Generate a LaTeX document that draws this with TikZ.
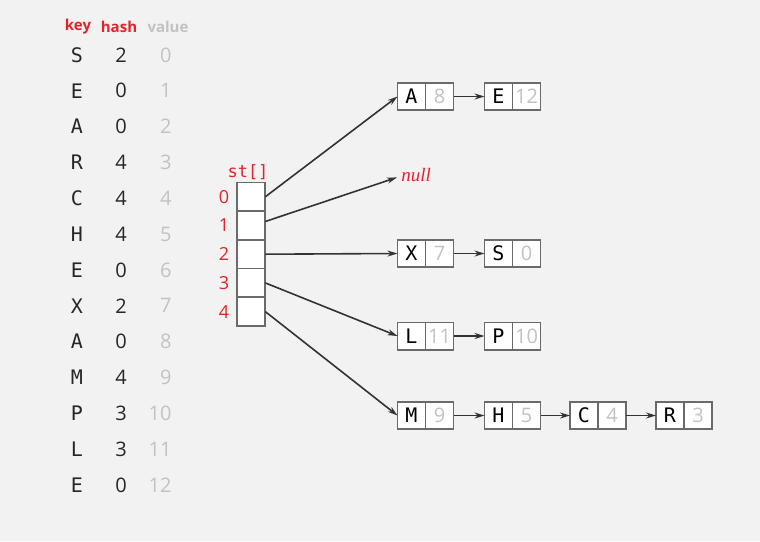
\documentclass[tikz,border=0pt]{standalone}
\usepackage{fontspec}
\usepackage{tikz}
\usetikzlibrary{arrows.meta}
\newfontfamily\keyfont{DejaVu Sans Mono}
\newfontfamily\numfont{Open Sans}
\newfontfamily\nilfont{Liberation Serif}
\definecolor{bggray}{HTML}{F2F2F2}
\definecolor{keyred}{HTML}{E2232A}
\definecolor{valgray}{HTML}{C2C2C2}
\definecolor{boxgray}{HTML}{6A6A6A}
\definecolor{arrowgray}{HTML}{333333}

\begin{document}
\begin{tikzpicture}[x=0.5pt,y=-0.5pt]
\tikzstyle{head}=[font=\numfont\bfseries\fontsize{7.5}{8}\selectfont,inner sep=0pt]
\tikzstyle{keytext}=[font=\keyfont\fontsize{10}{12}\selectfont,text=black!85,inner sep=0pt]
\tikzstyle{numtext}=[font=\numfont\fontsize{10}{12}\selectfont,inner sep=0pt]
\tikzstyle{cell}=[draw=boxgray,line width=0.9pt,fill=white,minimum width=14pt,minimum height=13.6pt,inner sep=0pt,outer sep=0pt]
\tikzstyle{link}=[draw=arrowgray,line width=0.8pt,-{Stealth[length=5pt,width=3pt]}]
\fill[bggray] (0,0) rectangle (760,541);
\node[head,text=keyred] (keyhead) at (78,27) {key};
\node[head,text=keyred] (hashhead) at (119,27) {hash};
\node[head,text=valgray] (valhead) at (168,27) {value};
\foreach \k/\h [count=\i from 0] in {S/2,E/0,A/0,R/4,C/4,H/4,E/0,X/2,A/0,M/4,P/3,L/3,E/0}{
	\node[keytext] (k\i) at (77,55+35.83*\i) {\k};
	\node[numtext,text=black!85] (h\i) at (121,55+35.83*\i) {\h};
	\node[numtext,text=valgray,anchor=east] (v\i) at (172,55+35.83*\i) {\i};
}
\node[font=\keyfont\fontsize{8.5}{10}\selectfont,text=keyred,inner sep=0pt] (sthead) at (248,172) {st[]};
\foreach \i in {0,...,4}{
	\node[cell,minimum width=14.1pt,minimum height=14.35pt] (st\i) at (251.2,196.8+28.7*\i) {};
	\node[font=\numfont\fontsize{9}{10}\selectfont,text=keyred,inner sep=0pt] (idx\i) at (224,196.8+28.7*\i) {\i};
}
\foreach \name/\v/\point in {
	A/8/{397.5,96.5},
	E/12/{484.5,96.5},
	X/7/{397.5,253.5},
	S/0/{484.5,253.5},
	L/11/{397.5,336},
	P/10/{484.5,336},
	M/9/{397.5,415.5},
	H/5/{484.5,415.5},
	C/4/{570,415.5},
	R/3/{656,415.5}}{
	\node[cell,anchor=west,font=\keyfont\fontsize{10}{12}\selectfont] (\name) at (\point) {\name};
	\node[cell,anchor=west,font=\numfont\fontsize{10}{12}\selectfont,text=valgray] (\name v) at (\name.east) {\v};
}
\node[anchor=west,inner sep=2pt,text=keyred,font=\nilfont\itshape\fontsize{9.5}{11}\selectfont] (null) at (397,175) {null};
\draw[link] (st0.east) -- (A.west);
\draw[link] ([yshift=2pt]st1.east) -- ([yshift=-1.2pt]null.west);
\draw[link] (st2.east) -- (X.west);
\draw[link] (st3.east) -- (L.west);
\draw[link] (st4.east) -- (M.west);
\draw[link] (Av.east) -- (E.west);
\draw[link] (Xv.east) -- (S.west);
\draw[link] (Lv.east) -- (P.west);
\draw[link] (Mv.east) -- (H.west);
\draw[link] (Hv.east) -- (C.west);
\draw[link] (Cv.east) -- (R.west);
\end{tikzpicture}
\end{document}
